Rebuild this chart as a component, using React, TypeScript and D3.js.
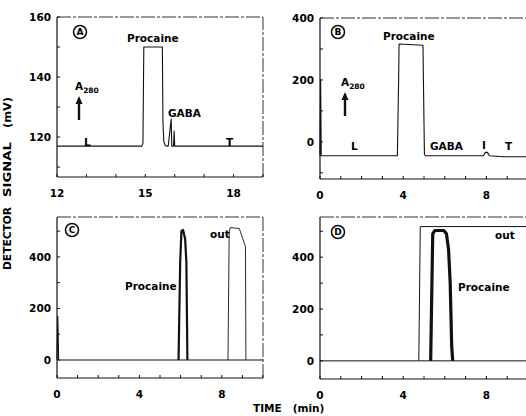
import React from 'react';
import * as d3 from 'd3';

// traces: [time (min), signal (mV)]
const traceA: [number, number][] = [
  [12, 117], [14.88, 117], [14.92, 118], [14.95, 150], [15.58, 150], [15.6, 125],
  [15.63, 118.5], [15.68, 117.2], [15.72, 117], [15.78, 117], [15.88, 126], [15.9, 117],
  [15.96, 117], [15.98, 122], [16.0, 117], [19, 117],
];
const traceB: [number, number][] = [
  [0, -45], [0.03, 200], [0.06, -45], [3.72, -45], [3.78, 200], [3.8, 316], [4.95, 312],
  [5.02, -40], [5.08, -45], [7.85, -45], [7.95, -34], [8.05, -34], [8.15, -45], [8.8, -48], [10, -48],
];
const traceC: [number, number][] = [
  [0, 0], [0.04, 170], [0.08, 0], [10, 0],
];
const procaineC: [number, number][] = [
  [5.9, 0], [5.98, 380], [6.04, 500], [6.12, 505], [6.22, 470], [6.28, 380], [6.33, 0],
];
const outC: [number, number][] = [
  [8.3, 0], [8.36, 500], [8.42, 514], [8.85, 510], [9.15, 440], [9.17, 0],
];
const traceD: [number, number][] = [
  [0, 0], [4.75, 0], [4.82, 518], [10, 518],
];
const baseD: [number, number][] = [
  [4.75, 0], [5.32, 0], [6.38, 0], [10, 0],
];
const procaineD: [number, number][] = [
  [5.32, 0], [5.42, 490], [5.52, 503], [5.95, 503], [6.08, 490], [6.18, 430], [6.26, 300],
  [6.33, 60], [6.38, 0],
];

const ticksA = [12, 15, 18];
const ticksTime = [0, 4, 8];
const yTicksA = [120, 140, 160];
const yTicksB = [0, 200, 400];
const yTicksCD = [0, 200, 400];

const FONT = 'DejaVu Sans, Arial, sans-serif';

type Label = { t: string; x: number; y: number };

type PanelProps = {
  letter: string;
  xDomain: [number, number];
  xRange: [number, number];
  yDomain: [number, number];
  yRange: [number, number];
  xTicks: number[];
  xMinor: number;
  yTicks: number[];
  yMinor: number;
  lines: { data: [number, number][]; width: number; color?: string }[];
  letterPos: [number, number];
  labels: Label[];
  a280?: [number, number];
};

const Panel = (p: PanelProps) => {
  const x = d3.scaleLinear().domain(p.xDomain).range(p.xRange);
  const y = d3.scaleLinear().domain(p.yDomain).range(p.yRange);
  const line = d3.line<[number, number]>().x(d => x(d[0])).y(d => y(d[1]));
  const [x0, x1] = p.xRange;
  const [yb, yt] = p.yRange;
  const minorX = d3.range(p.xDomain[0], p.xDomain[1] + 1e-6, p.xMinor);
  const minorY = d3.range(Math.ceil(p.yDomain[0] / p.yMinor) * p.yMinor, p.yDomain[1] + 1e-6, p.yMinor);
  return (
    <g>
      <line x1={x0} x2={x1} y1={yb} y2={yb} stroke="#111" strokeWidth={1.2} />
      <line x1={x0} x2={x0} y1={yb} y2={yt} stroke="#111" strokeWidth={1.2} />
      <line x1={x0} x2={x1} y1={yt} y2={yt} stroke="#333" strokeWidth={1} strokeDasharray="14 2 3 2" />
      <line x1={x1} x2={x1} y1={yb} y2={yt} stroke="#333" strokeWidth={1} strokeDasharray="14 2 3 2" />
      {minorX.map(v => (
        <line key={'mx' + v} x1={x(v)} x2={x(v)} y1={yb} y2={yb - 3} stroke="#111" strokeWidth={1} />
      ))}
      {minorY.map(v => (
        <line key={'my' + v} x1={x0} x2={x0 + 3} y1={y(v)} y2={y(v)} stroke="#111" strokeWidth={1} />
      ))}
      {p.xTicks.map(v => (
        <text key={'xt' + v} x={x(v)} y={yb + 20} textAnchor="middle" fontSize={10.5} fontWeight="bold" fontFamily={FONT}>{v}</text>
      ))}
      {p.yTicks.map(v => (
        <text key={'yt' + v} x={x0 - 6} y={y(v) + 4} textAnchor="end" fontSize={10.5} fontWeight="bold" fontFamily={FONT}>{v}</text>
      ))}
      {p.lines.map((l, i) => (
        <path key={i} d={line(l.data) || ''} fill="none" stroke={l.color || '#111'} strokeWidth={l.width} strokeLinejoin="round" />
      ))}
      <circle cx={p.letterPos[0]} cy={p.letterPos[1]} r={6.5} fill="none" stroke="#111" strokeWidth={1.6} />
      <text x={p.letterPos[0]} y={p.letterPos[1] + 3.3} textAnchor="middle" fontSize={9} fontWeight="bold" fontFamily={FONT}>{p.letter}</text>
      {p.labels.map((l, i) => (
        <text key={'l' + i} x={l.x} y={l.y} fontSize={10.5} fontWeight="bold" fontFamily={FONT}>{l.t}</text>
      ))}
      {p.a280 && (
        <g>
          <text x={p.a280[0]} y={p.a280[1]} fontSize={10.5} fontWeight="bold" fontFamily={FONT}>
            A<tspan fontSize={7.5} dy={3}>280</tspan>
          </text>
          <line x1={p.a280[0] + 4} x2={p.a280[0] + 4} y1={p.a280[1] + 30} y2={p.a280[1] + 12} stroke="#111" strokeWidth={2.4} />
          <path d={`M${p.a280[0] + 0.5},${p.a280[1] + 14} L${p.a280[0] + 4},${p.a280[1] + 6} L${p.a280[0] + 7.5},${p.a280[1] + 14} Z`} fill="#111" />
        </g>
      )}
    </g>
  );
};

export default function App() {
  return (
    <svg width={526} height={416} style={{ position: 'absolute', left: 0, top: 0, background: '#fff' }}>
      <rect width={526} height={416} fill="#fff" />
      <Panel
        letter="A"
        xDomain={[12, 19]} xRange={[57, 263]}
        yDomain={[106.7, 160]} yRange={[177, 17]}
        xTicks={ticksA} xMinor={1}
        yTicks={yTicksA} yMinor={10}
        lines={[{ data: traceA, width: 1.1 }]}
        letterPos={[80, 32]}
        labels={[
          { t: 'Procaine', x: 127, y: 42 },
          { t: 'GABA', x: 168, y: 117 },
          { t: 'L', x: 84, y: 146 },
          { t: 'T', x: 226, y: 146 },
        ]}
        a280={[75, 90]}
      />
      <Panel
        letter="B"
        xDomain={[0, 10]} xRange={[320, 528]}
        yDomain={[-120, 400]} yRange={[179, 18]}
        xTicks={ticksTime} xMinor={1}
        yTicks={yTicksB} yMinor={100}
        lines={[{ data: traceB, width: 1.1 }]}
        letterPos={[338, 32]}
        labels={[
          { t: 'Procaine', x: 383, y: 40 },
          { t: 'L', x: 351, y: 150 },
          { t: 'GABA', x: 430, y: 150 },
          { t: 'I', x: 482, y: 149 },
          { t: 'T', x: 505, y: 150 },
        ]}
        a280={[341, 86]}
      />
      <Panel
        letter="C"
        xDomain={[0, 10]} xRange={[57, 263]}
        yDomain={[-70, 555]} yRange={[378, 217]}
        xTicks={ticksTime} xMinor={1}
        yTicks={yTicksCD} yMinor={100}
        lines={[
          { data: traceC, width: 1.1 },
          { data: outC, width: 0.9 },
          { data: procaineC, width: 2.2 },
        ]}
        letterPos={[72, 230]}
        labels={[
          { t: 'Procaine', x: 125, y: 290 },
          { t: 'out', x: 210, y: 238 },
        ]}
      />
      <Panel
        letter="D"
        xDomain={[0, 10]} xRange={[320, 528]}
        yDomain={[-70, 555]} yRange={[379, 217]}
        xTicks={ticksTime} xMinor={1}
        yTicks={yTicksCD} yMinor={100}
        lines={[
          { data: traceD, width: 1 },
          { data: baseD, width: 1 },
          { data: procaineD, width: 3.2 },
        ]}
        letterPos={[338, 232]}
        labels={[
          { t: 'out', x: 495, y: 239 },
          { t: 'Procaine', x: 458, y: 291 },
        ]}
      />
      <g fontSize={10.5} fontWeight="bold" fontFamily={FONT}>
        <text transform="translate(11,238.5) rotate(-90)" textAnchor="middle" textLength={63} lengthAdjust="spacingAndGlyphs">DETECTOR</text>
        <text transform="translate(11,169.5) rotate(-90)" textAnchor="middle" textLength={55} lengthAdjust="spacingAndGlyphs">SIGNAL</text>
        <text transform="translate(11,112.5) rotate(-90)" textAnchor="middle" textLength={31} lengthAdjust="spacingAndGlyphs">(mV)</text>
      </g>
      <text x={253} y={412} fontSize={10.5} fontWeight="bold" fontFamily={FONT} style={{ whiteSpace: 'pre' }}>
        {'TIME   (min)'}
      </text>
    </svg>
  );
}
